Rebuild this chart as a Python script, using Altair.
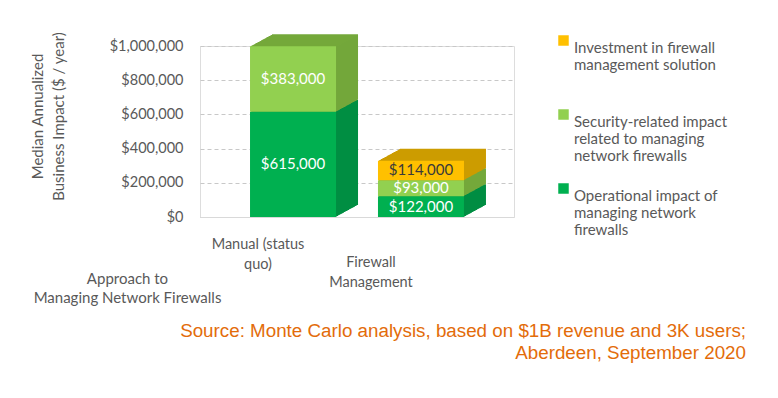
import json
import altair as alt
import pandas as pd

# ---------------- data ----------------
categories = ["Manual (status quo)", "Firewall Management"]
series = [
    "Operational impact of managing network firewalls",
    "Security-related impact related to managing network firewalls",
    "Investment in firewall management solution",
]
operational = [615000, 122000]
security = [383000, 93000]
investment = [0, 114000]
y_ticks = [0, 200000, 400000, 600000, 800000, 1000000]

category_lines = [["Manual (status", "quo)"], ["Firewall", "Management"]]
legend_lines = [
    ["Operational impact of", "managing network", "firewalls"],
    ["Security-related impact", "related to managing", "network firewalls"],
    ["Investment in firewall", "management solution", ""],
]
legend_order = [series[2], series[1], series[0]]

front_colors = ["#00B050", "#92D050", "#FFC000"]
side_colors = ["#008E43", "#74A83B", "#CC9C00"]

rows = []
for i, c in enumerate(categories):
    for s, vals in zip(series, [operational, security, investment]):
        rows.append({"category": c, "series": s, "value": vals[i]})
df = pd.DataFrame(rows)


def lookup_expr(var, keys, vals, default):
    expr = json.dumps(default)
    for k, v in reversed(list(zip(keys, vals))):
        expr = f"({var} == {json.dumps(k)} ? {json.dumps(v)} : {expr})"
    return expr


ord_expr = lookup_expr("datum.series", series, list(range(len(series))), 0)
side_expr = lookup_expr("datum.series", series, side_colors, "#888888")
legend_label_expr = lookup_expr("datum.label", series, legend_lines, "")
x_label_expr = lookup_expr("datum.label", categories, category_lines, "")

FONT = "Lato"
GRAY = "#595959"
BW = 86
DX = 22
DY = 12

x_enc = alt.X(
    "category:N",
    sort=categories,
    scale=alt.Scale(paddingInner=0, paddingOuter=0.227),
    axis=alt.Axis(
        title=["Approach to", "Managing Network Firewalls"],
        titleX=-73,
        titleY=54,
        titleBaseline="top",
        titleAlign="center",
        titleAngle=0,
        titleFont=FONT,
        titleFontSize=15,
        titleFontWeight="normal",
        titleColor=GRAY,
        titleLineHeight=19,
        labelExpr=x_label_expr,
        labelAngle=0,
        labelFont=FONT,
        labelFontSize=14.5,
        labelColor=GRAY,
        labelLineHeight=20,
        labelPadding={"condition": {"test": f"datum.value == {json.dumps(categories[1])}", "value": 38}, "value": 20},
        labelOffset={"condition": {"test": f"datum.value == {json.dumps(categories[1])}", "value": -50}, "value": -35},
        labelBaseline="top",
        ticks=False,
        domain=True,
        domainColor="#D9D9D9",
        grid=False,
    ),
)

y_axis = alt.Axis(
    title=["Median Annualized", "Business Impact ($ / year)"],
    titleX=-170,
    titleY=70,
    titleBaseline="top",
    titleAlign="center",
    titleFont=FONT,
    titleFontSize=15,
    titleFontWeight="normal",
    titleColor=GRAY,
    titleLineHeight=21,
    values=y_ticks,
    format="$,.0f",
    labelFont=FONT,
    labelFontSize=14.5,
    labelColor=GRAY,
    labelPadding=17,
    ticks=False,
    domain=False,
    grid=True,
    gridColor="#C8C8C8",
    gridDash=[4, 3],
)
y_scale = alt.Scale(domain=[0, 1000000], nice=False, zero=True)

base = (
    alt.Chart(df)
    .transform_filter("datum.value > 0")
    .transform_calculate(ord=ord_expr, side=side_expr)
)

layers = []
N = DX
for k in range(N, 0, -1):
    oy = -k * DY / N
    layers.append(
        base.mark_bar(size=BW, xOffset=k, x2Offset=k, yOffset=oy, y2Offset=oy).encode(
            x=x_enc,
            y=alt.Y("value:Q", stack="zero", scale=y_scale, axis=y_axis),
            order=alt.Order("ord:Q", sort="ascending"),
            color=alt.Color("side:N", scale=None),
        )
    )

front = base.mark_bar(size=BW).encode(
    x=x_enc,
    y=alt.Y("value:Q", stack="zero", scale=y_scale, axis=y_axis),
    order=alt.Order("ord:Q", sort="ascending"),
    color=alt.Color(
        "series:N",
        scale=alt.Scale(domain=legend_order, range=[front_colors[2], front_colors[1], front_colors[0]]),
        legend=alt.Legend(
            title=None,
            orient="none",
            legendX=356,
            legendY=-13,
            direction="vertical",
            symbolType="square",
            symbolSize=110,
            symbolStrokeWidth=0,
            labelExpr=legend_label_expr,
            labelFont=FONT,
            labelFontSize=15,
            labelColor=GRAY,
            labelLimit=400,
            labelBaseline="top",
            labelOffset=3,
            rowPadding=17,
        ),
    ),
)
layers.append(front)

labels = (
    base.transform_stack(
        stack="value",
        groupby=["category"],
        sort=[alt.SortField("ord", order="ascending")],
        as_=["v0", "v1"],
    )
    .transform_calculate(mid="(datum.v0 + datum.v1) / 2")
    .mark_text(font=FONT, fontSize=15, baseline="middle", align="center")
    .encode(
        x=x_enc,
        y=alt.Y("mid:Q", scale=y_scale, axis=y_axis),
        text=alt.Text("value:Q", format="$,.0f"),
        color=alt.condition(
            alt.datum.series == series[2], alt.value("#3A3A3A"), alt.value("white")
        ),
    )
)
layers.append(labels)

chart = (
    alt.layer(*layers)
    .properties(
        width=314,
        height=171,
        autosize=alt.AutoSizeParams(type="none"),
        padding={"left": 192, "top": 38, "right": 250, "bottom": 170},
        title=alt.TitleParams(
            text=["Source: Monte Carlo analysis, based on $1B revenue and 3K users;",
                  "Aberdeen, September 2020"],
            orient="bottom",
            anchor="end",
            align="right",
            dx=18,
            offset=17,
            color="#E36C0A",
            font="Liberation Sans",
            fontSize=18.8,
            fontWeight="normal",
            lineHeight=22,
        ),
    )
    .configure_view(stroke=None)
    .configure(background="white")
)

chart.save("out.html", embed_options={"renderer": "svg", "actions": False})
